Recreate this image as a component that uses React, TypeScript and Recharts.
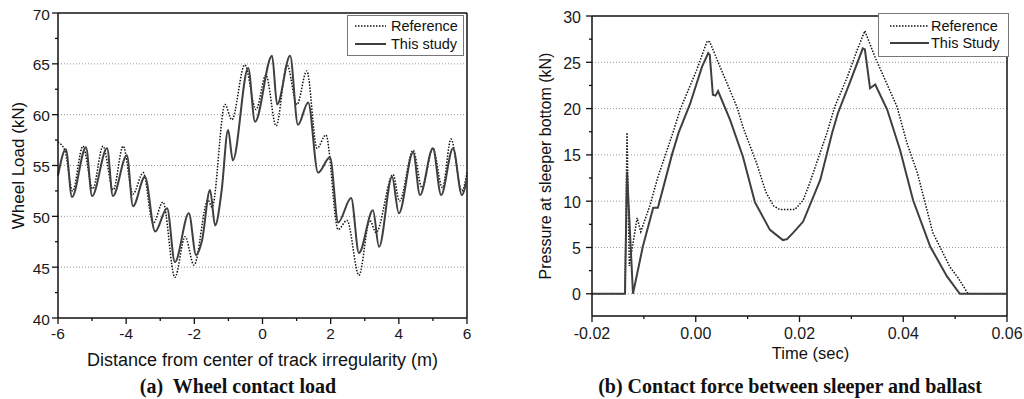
import React from 'react';
import { LineChart, Line, XAxis, YAxis, ReferenceLine, Legend, Label } from 'recharts';

const SANS = '"Liberation Sans", Arial, sans-serif';
const SERIF = '"Liberation Serif", "Times New Roman", serif';

// ---------- (a) Wheel contact load ----------
const loadRefDistance = [-6.0, -5.8, -5.57, -5.27, -4.98, -4.68, -4.38, -4.09, -3.8, -3.5, -3.21, -2.92, -2.57, -2.27, -2.01, -1.6, -1.48, -1.1, -0.9, -0.52, -0.19, 0.1, 0.4, 0.72, 1.01, 1.3, 1.6, 1.86, 2.22, 2.48, 2.83, 3.15, 3.33, 3.83, 4.02, 4.42, 4.68, 5.0, 5.28, 5.53, 5.85, 6.0];
const loadRefValue = [57.3, 56.5, 52.5, 56.9, 52.7, 56.9, 52.6, 56.9, 52.2, 54.3, 49.3, 51.4, 44.0, 48.0, 45.2, 51.6, 50.9, 61.0, 59.5, 64.9, 60.5, 63.9, 58.9, 64.9, 61.0, 64.3, 56.7, 58.0, 48.7, 49.6, 44.2, 49.6, 48.4, 54.1, 51.5, 56.5, 52.8, 56.7, 52.8, 57.6, 52.5, 54.3];

const loadStudyDistance = [-6.0, -5.77, -5.59, -5.18, -5.0, -4.56, -4.39, -3.98, -3.8, -3.45, -3.15, -2.8, -2.57, -2.16, -1.95, -1.77, -1.54, -1.39, -1.2, -1.01, -0.87, -0.42, -0.22, 0.28, 0.43, 0.81, 1.04, 1.34, 1.63, 1.98, 2.22, 2.6, 2.83, 3.24, 3.42, 3.8, 4.0, 4.42, 4.62, 5.0, 5.24, 5.59, 5.85, 6.0];
const loadStudyValue = [54.0, 56.6, 51.9, 56.8, 52.0, 56.7, 52.0, 56.0, 51.0, 53.9, 48.5, 50.8, 45.5, 50.3, 46.2, 47.7, 52.6, 49.1, 52.5, 58.5, 55.5, 64.6, 59.3, 65.8, 61.0, 65.8, 59.0, 61.2, 54.3, 55.8, 49.4, 51.8, 46.4, 50.6, 47.0, 53.9, 50.3, 56.3, 52.1, 56.7, 52.1, 56.7, 52.1, 53.8];

const loadXTicks = [-6, -5, -4, -3, -2, -1, 0, 1, 2, 3, 4, 5, 6];
const loadXLabels = [-6, -4, -2, 0, 2, 4, 6];
const loadYTicks = [40, 42.5, 45, 47.5, 50, 52.5, 55, 57.5, 60, 62.5, 65, 67.5, 70];
const loadYLabels = [40, 45, 50, 55, 60, 65, 70];
const loadGrid = [45, 50, 55, 60, 65];
const loadSeriesNames = ['Reference', 'This study'];

// ---------- (b) Contact force between sleeper and ballast ----------
const timeRef = [-0.02, -0.01364, -0.01325, -0.0128, -0.0113, -0.0106, -0.0088, -0.0073, -0.0044, -0.003, 0.0002, 0.0022, 0.0027, 0.0047, 0.008, 0.0091, 0.0118, 0.0135, 0.015, 0.0162, 0.0191, 0.0207, 0.022, 0.0253, 0.0268, 0.0292, 0.0311, 0.0326, 0.0346, 0.0369, 0.0388, 0.0407, 0.0427, 0.0457, 0.049, 0.0506, 0.0525, 0.06];
const pressRef = [0, 0, 17.4, 3.0, 8.2, 6.7, 9.6, 12.6, 17.4, 19.9, 24.2, 27.3, 27.2, 24.5, 20.1, 18.0, 14.0, 11.0, 9.5, 9.1, 9.1, 10.1, 12.0, 17.4, 20.2, 23.4, 26.3, 28.4, 25.5, 22.6, 20.2, 16.3, 13.1, 6.6, 2.9, 1.7, 0, 0];

const timeStudy = [-0.02, -0.01364, -0.01325, -0.0121, -0.0102, -0.0082, -0.0073, -0.0062, -0.0046, -0.0033, -0.0011, 0.0012, 0.0024, 0.0027, 0.0033, 0.0038, 0.0043, 0.0066, 0.0091, 0.0114, 0.0143, 0.0168, 0.0176, 0.0188, 0.0207, 0.024, 0.0263, 0.0274, 0.0297, 0.0322, 0.0326, 0.0336, 0.0346, 0.0369, 0.0394, 0.0419, 0.0452, 0.0484, 0.0509, 0.06];
const pressStudy = [0, 0, 13.2, 0, 5.1, 9.3, 9.3, 11.6, 15.0, 17.4, 20.5, 24.5, 26.0, 25.8, 21.5, 21.4, 21.9, 18.8, 14.8, 9.9, 6.9, 5.8, 5.9, 6.6, 7.8, 12.3, 17.4, 19.5, 22.8, 26.5, 26.4, 22.2, 22.6, 19.9, 15.5, 10.1, 5.1, 1.9, 0, 0];

const timeXTicks = [-0.02, -0.01, 0, 0.01, 0.02, 0.03, 0.04, 0.05, 0.06];
const timeXLabels = [-0.02, 0, 0.02, 0.04, 0.06];
const pressYTicks = [0, 2.5, 5, 7.5, 10, 12.5, 15, 17.5, 20, 22.5, 25, 27.5, 30];
const pressYLabels = [0, 5, 10, 15, 20, 25, 30];
const pressGrid = [0, 5, 10, 15, 20, 25];
const pressSeriesNames = ['Reference', 'This Study'];

const toPoints = (xs: number[], ys: number[]) => xs.map((x, i) => ({ x, y: ys[i] }));

const loadRefData = toPoints(loadRefDistance, loadRefValue);
const loadStudyData = toPoints(loadStudyDistance, loadStudyValue);
const pressRefData = toPoints(timeRef, pressRef);
const pressStudyData = toPoints(timeStudy, pressStudy);

const AXIS = '#111';
const STUDY = '#3f3f3f';
const REF = '#111';
const GRID = '#9a9a9a';

const isIn = (arr: number[], v: number) => arr.some((m) => Math.abs(m - v) < 1e-9);

const makeXTick = (majors: number[], fmt: (v: number) => string, fontSize: number, gap: number) => (props: any) => {
  const { x, y, payload } = props;
  const major = isIn(majors, payload.value);
  return (
    <g>
      <line x1={x} y1={y} x2={x} y2={y + (major ? 6 : 3)} stroke={AXIS} strokeWidth={1.3} />
      {major && (
        <text x={x} y={y + gap} textAnchor="middle" fontSize={fontSize} fontFamily={SANS} fill="#1a1a1a">
          {fmt(payload.value)}
        </text>
      )}
    </g>
  );
};

const makeYTick = (majors: number[], fmt: (v: number) => string, fontSize: number, gap: number) => (props: any) => {
  const { x, y, payload } = props;
  const major = isIn(majors, payload.value);
  return (
    <g>
      <line x1={x} y1={y} x2={x - (major ? 6 : 3)} y2={y} stroke={AXIS} strokeWidth={1.3} />
      {major && (
        <text x={x - gap} y={y + 1} textAnchor="end" dominantBaseline="central" fontSize={fontSize} fontFamily={SANS} fill="#1a1a1a">
          {fmt(payload.value)}
        </text>
      )}
    </g>
  );
};

const makeLegend = (names: string[], w: number, h: number, s1: number, s2: number, tx: number, rows: number[], fontSize: number) => () => (
  <svg width={w} height={h} style={{ display: 'block' }}>
    <rect x={0.5} y={0.5} width={w - 1} height={h - 1} fill="#fff" stroke="#777" strokeWidth={1} />
    <line x1={s1} y1={rows[0]} x2={s2} y2={rows[0]} stroke={REF} strokeWidth={1.5} strokeDasharray="1.5 1.5" />
    <text x={tx} y={rows[0]} dominantBaseline="central" fontSize={fontSize} fontFamily={SANS} fill="#111">{names[0]}</text>
    <line x1={s1} y1={rows[1]} x2={s2} y2={rows[1]} stroke={STUDY} strokeWidth={2} />
    <text x={tx} y={rows[1]} dominantBaseline="central" fontSize={fontSize} fontFamily={SANS} fill="#111">{names[1]}</text>
  </svg>
);

const yTitle = (text: string, dx: number, fontSize: number) => (p: any) => {
  const vb = p.viewBox || {};
  const cx = vb.x + dx;
  const cy = vb.y + vb.height / 2;
  return (
    <text transform={`translate(${cx},${cy}) rotate(-90)`} textAnchor="middle" dominantBaseline="central" fontSize={fontSize} fontFamily={SANS} fill="#111">
      {text}
    </text>
  );
};

const xTitle = (text: string, dy: number, dx: number, fontSize: number) => (p: any) => {
  const vb = p.viewBox || {};
  return (
    <text x={vb.x + vb.width / 2 + dx} y={vb.y + dy} textAnchor="middle" fontSize={fontSize} fontFamily={SANS} fill="#111">
      {text}
    </text>
  );
};

const WheelChart = () => (
  <LineChart width={480} height={399} margin={{ top: 13, right: 13, bottom: 29, left: 8 }}>
    {loadGrid.map((v) => (
      <ReferenceLine key={`g${v}`} y={v} stroke={GRID} strokeWidth={1} strokeDasharray="1 2" />
    ))}
    <ReferenceLine y={70} stroke={AXIS} strokeWidth={1.5} />
    <ReferenceLine x={6} stroke={AXIS} strokeWidth={1.5} />
    <XAxis
      type="number"
      dataKey="x"
      domain={[-6, 6]}
      ticks={loadXTicks}
      interval={0}
      height={52}
      tickSize={0}
      tickMargin={0}
      tickLine={false}
      axisLine={{ stroke: AXIS, strokeWidth: 1.5 }}
      tick={makeXTick(loadXLabels, (v) => String(v), 15.5, 21)}
    >
      <Label content={xTitle('Distance from center of track irregularity (m)', 48, 0, 18)} />
    </XAxis>
    <YAxis
      type="number"
      domain={[40, 70]}
      ticks={loadYTicks}
      interval={0}
      width={50}
      tickSize={0}
      tickMargin={0}
      tickLine={false}
      axisLine={{ stroke: AXIS, strokeWidth: 1.5 }}
      tick={makeYTick(loadYLabels, (v) => String(v), 15.5, 8)}
    >
      <Label content={yTitle('Wheel Load (kN)', 10, 17)} />
    </YAxis>
    <Legend
      layout="vertical"
      align="center"
      verticalAlign="middle"
      wrapperStyle={{ position: 'absolute', left: 347, top: 15, width: 117, height: 41 }}
      content={makeLegend(loadSeriesNames, 117, 41, 8, 39, 44, [11, 29], 14.5)}
    />
    <Line
      name={loadSeriesNames[0]}
      data={loadRefData}
      dataKey="y"
      type="monotone"
      stroke={REF}
      strokeWidth={1.5}
      strokeDasharray="1.5 1.5"
      dot={false}
      isAnimationActive={false}
    />
    <Line
      name={loadSeriesNames[1]}
      data={loadStudyData}
      dataKey="y"
      type="monotone"
      stroke={STUDY}
      strokeWidth={2}
      dot={false}
      isAnimationActive={false}
    />
  </LineChart>
);

const PressureChart = () => (
  <LineChart width={512} height={399} margin={{ top: 16, right: 17, bottom: 31, left: 30 }}>
    {pressGrid.map((v) => (
      <ReferenceLine key={`g${v}`} y={v} stroke={GRID} strokeWidth={1} strokeDasharray="1 2" />
    ))}
    <ReferenceLine y={30} stroke={AXIS} strokeWidth={1.5} />
    <ReferenceLine x={0.06} stroke={AXIS} strokeWidth={1.5} />
    <XAxis
      type="number"
      dataKey="x"
      domain={[-0.02, 0.06]}
      ticks={timeXTicks}
      interval={0}
      height={52}
      tickSize={0}
      tickMargin={0}
      tickLine={false}
      axisLine={{ stroke: AXIS, strokeWidth: 1.5 }}
      tick={makeXTick(timeXLabels, (v) => v.toFixed(2), 16, 23)}
    >
      <Label content={xTitle('Time (sec)', 43, 11, 16.5)} />
    </XAxis>
    <YAxis
      type="number"
      domain={[-2.4, 30]}
      ticks={pressYTicks}
      interval={0}
      width={50}
      tickSize={0}
      tickMargin={0}
      tickLine={false}
      axisLine={{ stroke: AXIS, strokeWidth: 1.5 }}
      tick={makeYTick(pressYLabels, (v) => String(v), 16, 11)}
    >
      <Label content={yTitle('Pressure at sleeper bottom (kN)', 3, 16)} />
    </YAxis>
    <Legend
      layout="vertical"
      align="center"
      verticalAlign="middle"
      wrapperStyle={{ position: 'absolute', left: 366, top: 13, width: 131, height: 44 }}
      content={makeLegend(pressSeriesNames, 131, 44, 12, 51, 53, [13, 30], 14.5)}
    />
    <Line
      name={pressSeriesNames[0]}
      data={pressRefData}
      dataKey="y"
      type="linear"
      stroke={REF}
      strokeWidth={1.5}
      strokeDasharray="1.5 1.5"
      dot={false}
      isAnimationActive={false}
    />
    <Line
      name={pressSeriesNames[1]}
      data={pressStudyData}
      dataKey="y"
      type="linear"
      stroke={STUDY}
      strokeWidth={2}
      dot={false}
      isAnimationActive={false}
    />
  </LineChart>
);

const captionStyle: React.CSSProperties = {
  position: 'absolute',
  fontFamily: SERIF,
  fontWeight: 'bold',
  fontSize: 20,
  color: '#111',
  textAlign: 'center',
  whiteSpace: 'pre',
  lineHeight: '20px',
};

export default function App() {
  return (
    <div style={{ position: 'absolute', left: 0, top: 0, width: 1024, height: 399, background: '#fff', overflow: 'hidden' }}>
      <div style={{ position: 'absolute', left: 0, top: 0, width: 480, height: 399 }}>
        <WheelChart />
      </div>
      <div style={{ position: 'absolute', left: 512, top: 0, width: 512, height: 399 }}>
        <PressureChart />
      </div>
      <div style={{ ...captionStyle, left: 38, top: 376, width: 400 }}>(a)  Wheel contact load</div>
      <div style={{ ...captionStyle, left: 590, top: 376, width: 400 }}>(b) Contact force between sleeper and ballast</div>
    </div>
  );
}
